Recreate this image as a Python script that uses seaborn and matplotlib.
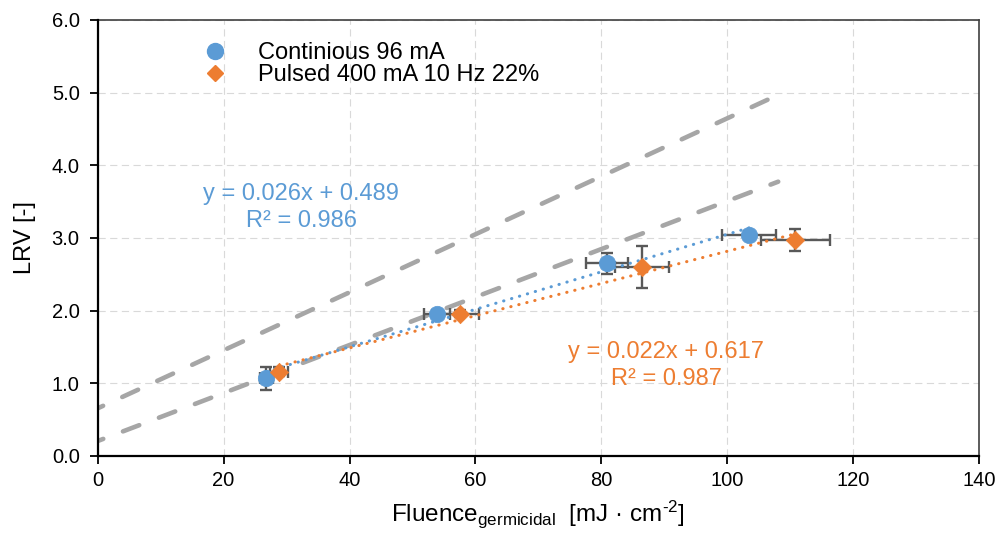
import numpy as np
import pandas as pd
import matplotlib
matplotlib.use("Agg")
import matplotlib.pyplot as plt
import seaborn as sns
from matplotlib.lines import Line2D

# ---------------- data ----------------
cont_x = [26.8, 53.9, 80.9, 103.5]
cont_y = [1.07, 1.96, 2.65, 3.04]
cont_xerr = [1.0, 2.1, 3.3, 4.3]
cont_yerr = [0.16, 0.05, 0.15, 0.05]

puls_x = [28.8, 57.6, 86.5, 110.8]
puls_y = [1.16, 1.96, 2.60, 2.97]
puls_xerr = [1.4, 3.0, 4.3, 5.45]
puls_yerr = [0.06, 0.05, 0.29, 0.15]

ref_x = [0.0, 108.1]
ref_upper = [0.656, 4.97]
ref_lower = [0.206, 3.775]

series_labels = ["Continious 96 mA", "Pulsed 400 mA 10 Hz 22%"]
eq_cont = ["y = 0.026x + 0.489", "R² = 0.986"]
eq_puls = ["y = 0.022x + 0.617", "R² = 0.987"]
x_ticks = [0, 20, 40, 60, 80, 100, 120, 140]
y_ticks = [0.0, 1.0, 2.0, 3.0, 4.0, 5.0, 6.0]

BLUE = "#5B9BD5"
ORANGE = "#ED7D31"
GREY = "#A6A6A6"
ERR = "#595959"

# ---------------- style ----------------
sns.set_theme(style="white")
plt.rcParams["font.family"] = ["Liberation Sans", "DejaVu Sans"]
plt.rcParams["mathtext.fontset"] = "custom"
plt.rcParams["mathtext.rm"] = "Liberation Sans"
plt.rcParams["mathtext.it"] = "Liberation Sans:italic"
plt.rcParams["text.color"] = "black"
plt.rcParams["axes.labelcolor"] = "black"
plt.rcParams["xtick.color"] = "black"
plt.rcParams["ytick.color"] = "black"

fig = plt.figure(figsize=(10.03, 5.42), dpi=100)
ax = fig.add_axes([0.0974, 0.1587, 0.8787, 0.8044])

df_c = pd.DataFrame({"x": cont_x, "y": cont_y})
df_p = pd.DataFrame({"x": puls_x, "y": puls_y})
df_ref = pd.DataFrame({"x": ref_x * 2, "y": ref_upper + ref_lower,
                       "line": ["upper"] * 2 + ["lower"] * 2})

# reference dashed grey lines
for name in ["upper", "lower"]:
    sub = df_ref[df_ref["line"] == name]
    sns.lineplot(data=sub, x="x", y="y", ax=ax, color=GREY, lw=3.3,
                 linestyle=(2.5, (3.8, 4.6)), dash_capstyle="round",
                 zorder=1.5, legend=False, sort=False)

# error bars
ax.errorbar(cont_x, cont_y, xerr=cont_xerr, yerr=cont_yerr, fmt="none",
            ecolor=ERR, elinewidth=1.7, capsize=4.2, capthick=1.7, zorder=2)
ax.errorbar(puls_x, puls_y, xerr=puls_xerr, yerr=puls_yerr, fmt="none",
            ecolor=ERR, elinewidth=1.7, capsize=4.2, capthick=1.7, zorder=2)

# linear trendlines
sns.regplot(data=df_c, x="x", y="y", ax=ax, scatter=False, ci=None, truncate=True,
            line_kws=dict(color=BLUE, lw=2.2, linestyle=(0, (0.1, 2.6)),
                          dash_capstyle="round", zorder=2.5))
sns.regplot(data=df_p, x="x", y="y", ax=ax, scatter=False, ci=None, truncate=True,
            line_kws=dict(color=ORANGE, lw=2.2, linestyle=(0, (0.1, 2.6)),
                          dash_capstyle="round", zorder=2.5))

# markers
sns.scatterplot(data=df_c, x="x", y="y", ax=ax, marker="o", s=140, color=BLUE,
                edgecolor=BLUE, linewidth=0.5, zorder=3, legend=False)
sns.scatterplot(data=df_p, x="x", y="y", ax=ax, marker="D", s=88, color=ORANGE,
                edgecolor=ORANGE, linewidth=0.5, zorder=3, legend=False)

# equations
ax.text(32.3, 3.60, eq_cont[0], color=BLUE, fontsize=17, ha="center", va="center")
ax.text(32.3, 3.23, eq_cont[1], color=BLUE, fontsize=17, ha="center", va="center")
ax.text(90.3, 1.43, eq_puls[0], color=ORANGE, fontsize=17, ha="center", va="center")
ax.text(90.3, 1.06, eq_puls[1], color=ORANGE, fontsize=17, ha="center", va="center")

# axes
ax.set_xlim(0, 140)
ax.set_ylim(0, 6)
ax.set_xticks(x_ticks)
ax.set_yticks(y_ticks)
ax.set_xticklabels([str(v) for v in x_ticks])
ax.set_yticklabels([f"{v:.1f}" for v in y_ticks])
ax.tick_params(axis="both", which="major", direction="out", length=6, width=1.3,
               color="black", labelsize=14.5, labelcolor="black", pad=5,
               bottom=True, left=True, top=False, right=False)
ax.tick_params(axis="y", pad=7)
ax.grid(True, color="#D9D9D9", lw=0.8, linestyle=(0, (6.5, 4)))
ax.set_axisbelow(True)

for s in ["left", "bottom"]:
    ax.spines[s].set_color("black")
    ax.spines[s].set_linewidth(1.6)
    ax.spines[s].set_zorder(5)
for s in ["top", "right"]:
    ax.spines[s].set_color("#404040")
    ax.spines[s].set_linewidth(1.2)

ax.set_xlabel("Fluence$_{\\mathrm{germicidal}}$  [mJ · cm$^{\\mathrm{\u20102}}$]",
              fontsize=17.5, color="black", labelpad=6)
ax.set_ylabel("LRV [-]", fontsize=17, color="black", labelpad=11)

handles = [
    Line2D([], [], linestyle="none", marker="o", markersize=11.5,
           markerfacecolor=BLUE, markeredgecolor=BLUE),
    Line2D([], [], linestyle="none", marker="D", markersize=8.5,
           markerfacecolor=ORANGE, markeredgecolor=ORANGE),
]
leg = ax.legend(handles, series_labels, loc="upper left", bbox_to_anchor=(0.12, 0.950),
                frameon=False, fontsize=17, handlelength=1.0, handletextpad=1.3,
                labelspacing=0.0, borderpad=0, borderaxespad=0)
for t in leg.get_texts():
    t.set_color("black")

fig.savefig("out.png", dpi=100)
